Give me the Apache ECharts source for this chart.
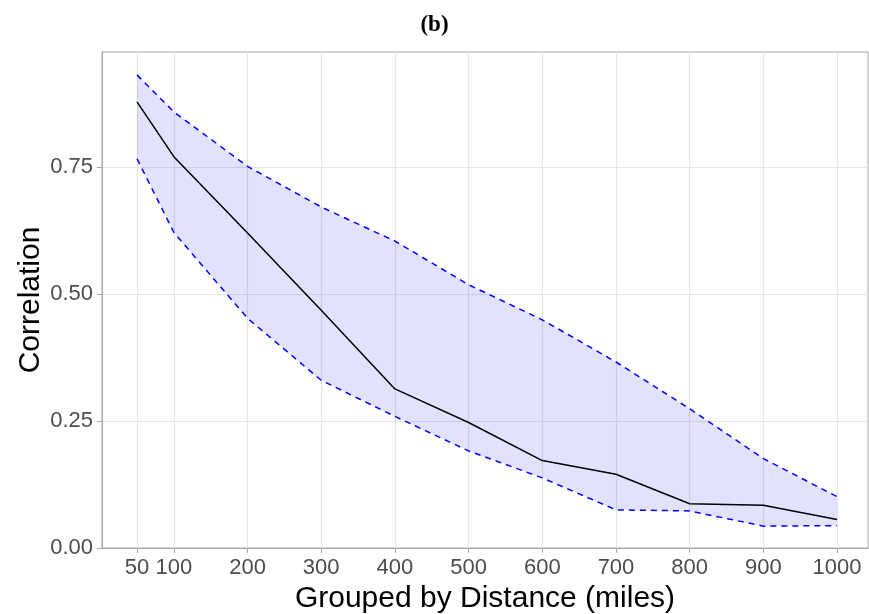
<!DOCTYPE html>
<html><head><meta charset="utf-8">
<script src="https://cdn.jsdelivr.net/npm/echarts@6/dist/echarts.min.js"></script>
<style>html,body{margin:0;padding:0;background:#fff;}#c{width:869px;height:614px;}</style>
</head><body><div id="c"></div>
<script>
const distances = [50, 100, 200, 300, 400, 500, 600, 700, 800, 900, 1000];
const meanCorr  = [0.878, 0.770, 0.620, 0.468, 0.313, 0.247, 0.172, 0.145, 0.087, 0.084, 0.056];
const upperCI   = [0.931, 0.858, 0.751, 0.671, 0.604, 0.518, 0.449, 0.366, 0.274, 0.176, 0.101];
const lowerCI   = [0.766, 0.621, 0.452, 0.330, 0.259, 0.191, 0.138, 0.075, 0.073, 0.043, 0.044];
const yTicks    = [0, 0.25, 0.5, 0.75];

const chart = echarts.init(document.getElementById('c'), null, {renderer: 'canvas'});
const pairs = arr => distances.map((d, i) => [d, arr[i]]);
const gridColor = '#e6e6e6';
const borderColor = '#a8a8a8';
const textColor = '#4d4d4d';
const lineBase = {type: 'line', symbol: 'none', showSymbol: false, silent: true, emphasis: {disabled: true}};

chart.setOption({
  animation: false,
  backgroundColor: '#fff',
  title: {
    text: '(b)', left: 'center', top: 9,
    textStyle: {fontFamily: 'Liberation Serif', fontWeight: 'bold', fontSize: 23, color: '#000'}
  },
  grid: {left: 102, right: 1, top: 52, bottom: 66, outerBoundsMode: 'none', containLabel: false, show: true, borderColor: borderColor, borderWidth: 1, backgroundColor: 'transparent'},
  xAxis: {
    type: 'value', min: 2.5, max: 1042,
    name: 'Grouped by Distance (miles)', nameLocation: 'middle', nameGap: 35,
    nameTextStyle: {fontFamily: 'Liberation Sans', fontSize: 30, color: '#000'},
    axisLine: {show: true, lineStyle: {color: borderColor}},
    axisTick: {show: true, length: 5, lineStyle: {color: borderColor}, customValues: distances},
    axisLabel: {customValues: distances, fontFamily: 'Liberation Sans', fontSize: 22, color: textColor, margin: 9, formatter: v => String(v)},
    splitLine: {show: false}
  },
  yAxis: {
    type: 'value', min: 0, max: 0.976,
    name: 'Correlation', nameLocation: 'middle', nameGap: 56, nameMoveOverlap: false,
    nameTextStyle: {fontFamily: 'Liberation Sans', fontSize: 30, color: '#000'},
    axisLine: {show: true, lineStyle: {color: borderColor}},
    axisTick: {show: true, length: 5, lineStyle: {color: borderColor}, customValues: yTicks},
    axisLabel: {customValues: yTicks, fontFamily: 'Liberation Sans', fontSize: 22, color: textColor, margin: 9, formatter: v => v.toFixed(2)},
    splitLine: {show: false}
  },
  series: [
    {
      type: 'line', data: [], silent: true, z: 0,
      markLine: {
        z: 0, silent: true, symbol: 'none', label: {show: false},
        lineStyle: {color: gridColor, type: 'solid', width: 1.2},
        data: distances.map(d => ({xAxis: d})).concat(yTicks.slice(1).map(v => ({yAxis: v})))
      }
    },
    {
      type: 'custom', z: 1, silent: true,
      data: [[0]],
      renderItem: (params, api) => {
        const pts = [];
        for (let i = 0; i < distances.length; i++) pts.push(api.coord([distances[i], upperCI[i]]));
        for (let i = distances.length - 1; i >= 0; i--) pts.push(api.coord([distances[i], lowerCI[i]]));
        return {type: 'polygon', shape: {points: pts}, style: {fill: 'rgba(0,0,255,0.115)'}};
      }
    },
    Object.assign({}, lineBase, {z: 3, data: pairs(upperCI), lineStyle: {color: '#0000ff', width: 1.5, type: [6, 5], join: 'round'}}),
    Object.assign({}, lineBase, {z: 3, data: pairs(lowerCI), lineStyle: {color: '#0000ff', width: 1.5, type: [6, 5], join: 'round'}}),
    Object.assign({}, lineBase, {z: 4, data: pairs(meanCorr), lineStyle: {color: '#000', width: 1.5, join: 'round'}})
  ]
});
</script></body></html>
